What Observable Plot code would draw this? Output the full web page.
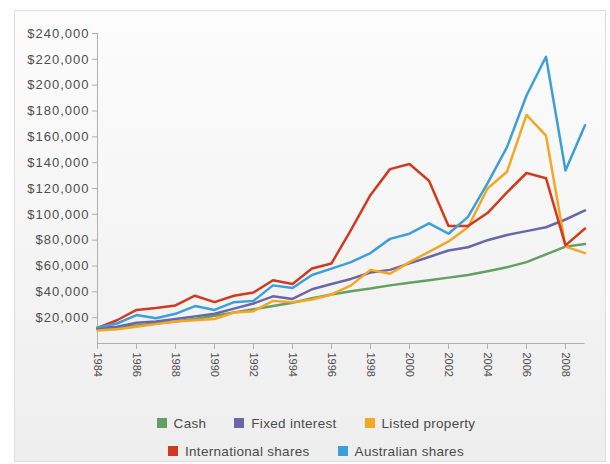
<!DOCTYPE html>
<html>
<head>
<meta charset="utf-8">
<script src="https://cdn.jsdelivr.net/npm/d3@7"></script>
<script src="https://cdn.jsdelivr.net/npm/@observablehq/plot@0.6"></script>
<style>
  body { margin: 0; background: #fff; font-family: "Liberation Sans", Arial, sans-serif; }
  #panel { position: absolute; left: 14px; top: 10px; width: 592px; height: 452px; box-sizing: border-box;
           border: 1px solid #dedede; background: linear-gradient(#fcfcfc, #eeeeee); }
  #chart { position: relative; width: 610px; }
  #chart svg { display: block; }
  g[aria-label="y-axis tick label"] text { letter-spacing: 1px; }
  .legend { position: relative; width: 610px; box-sizing: border-box; padding-left: 22px; padding-top: 4px;
            font-size: 13.5px; color: #4a4a4a; letter-spacing: 0.3px; }
  .row { display: flex; justify-content: center; align-items: center; height: 28px; }
  .item { display: flex; align-items: center; margin: 0 14px; white-space: nowrap; }
  .sw { display: inline-block; width: 10px; height: 10px; margin-right: 7px; }
</style>
</head>
<body>
<div id="panel"></div>
<div id="chart"></div>
<div class="legend" id="legend"></div>
<script>
const years = [1984,1985,1986,1987,1988,1989,1990,1991,1992,1993,1994,1995,1996,1997,1998,1999,2000,2001,2002,2003,2004,2005,2006,2007,2008,2009];
const seriesNames = ["Cash", "Fixed interest", "Listed property", "International shares", "Australian shares"];
const seriesColors = ["#62a063", "#6a66a8", "#f5a623", "#d23a1f", "#3d9fd8"];
const cash   = [11000,12500,14000,15500,17000,19000,21500,24000,26500,29000,31500,35000,38000,40500,42500,45000,47000,49000,51000,53000,56000,59000,63000,69000,75000,77000];
const fixedInterest = [12000,13000,16000,17000,19000,21000,23000,27000,31000,36500,34500,42000,46000,50000,55000,57000,62000,67000,72000,74500,80000,84000,87000,90000,96000,103000];
const listedProperty = [10000,11000,13000,15000,17000,18000,19000,24000,25000,33000,32000,34000,38000,45000,57000,54000,63000,71000,79000,90000,120000,133000,177000,161000,75000,70000];
const internationalShares = [12000,18000,26000,27500,29500,37000,32000,37000,39500,49000,46000,58000,62000,88000,115000,135000,139000,126000,91000,91000,101000,117000,132000,128000,76000,89000];
const australianShares = [12500,15500,22000,19500,23000,29000,26000,32000,33000,45000,43000,53000,58000,63000,70000,81000,85000,93000,85000,98000,124000,152000,192000,222000,134000,169000];
const yTicks = [20000,40000,60000,80000,100000,120000,140000,160000,180000,200000,220000,240000];
const xTicks = [1984,1986,1988,1990,1992,1994,1996,1998,2000,2002,2004,2006,2008];

const seriesValues = [cash, fixedInterest, listedProperty, internationalShares, australianShares];
const data = seriesNames.flatMap((name, i) =>
  years.map((year, j) => ({series: name, year, value: seriesValues[i][j]})));

const chart = Plot.plot({
  width: 610,
  height: 405,
  marginLeft: 97,
  marginRight: 25.5,
  marginTop: 33,
  marginBottom: 62,
  style: {background: "transparent", fontFamily: "'Liberation Sans', Arial, sans-serif", color: "#555", overflow: "visible"},
  x: {domain: [1984, 2009]},
  y: {domain: [0, 240000]},
  color: {domain: seriesNames, range: seriesColors},
  marks: [
    Plot.ruleY([0], {stroke: "#b0b0b0"}),
    Plot.ruleX([1984], {stroke: "#b0b0b0"}),
    Plot.axisY({ticks: yTicks, tickFormat: d => "$" + d3.format(",")(d), tickSize: 5, tickPadding: 3,
                stroke: "#b0b0b0", fill: "#4d4d4d", fontSize: 13, label: null}),
    Plot.axisX({ticks: xTicks, tickFormat: d => String(d), tickRotate: 90, tickSize: 6, tickPadding: 3,
                stroke: "#b0b0b0", fill: "#4d4d4d", fontSize: 11, label: null}),
    Plot.line(data, {x: "year", y: "value", z: "series", stroke: "series", strokeWidth: 2.5, strokeLinejoin: "round"})
  ]
});
document.getElementById("chart").appendChild(chart);

const legend = document.getElementById("legend");
const rows = [[0, 1, 2], [3, 4]];
rows.forEach(r => {
  const row = document.createElement("div");
  row.className = "row";
  r.forEach(i => {
    const item = document.createElement("span");
    item.className = "item";
    const sw = document.createElement("span");
    sw.className = "sw";
    sw.style.background = seriesColors[i];
    item.appendChild(sw);
    item.appendChild(document.createTextNode(seriesNames[i]));
    row.appendChild(item);
  });
  legend.appendChild(row);
});
</script>
</body>
</html>
